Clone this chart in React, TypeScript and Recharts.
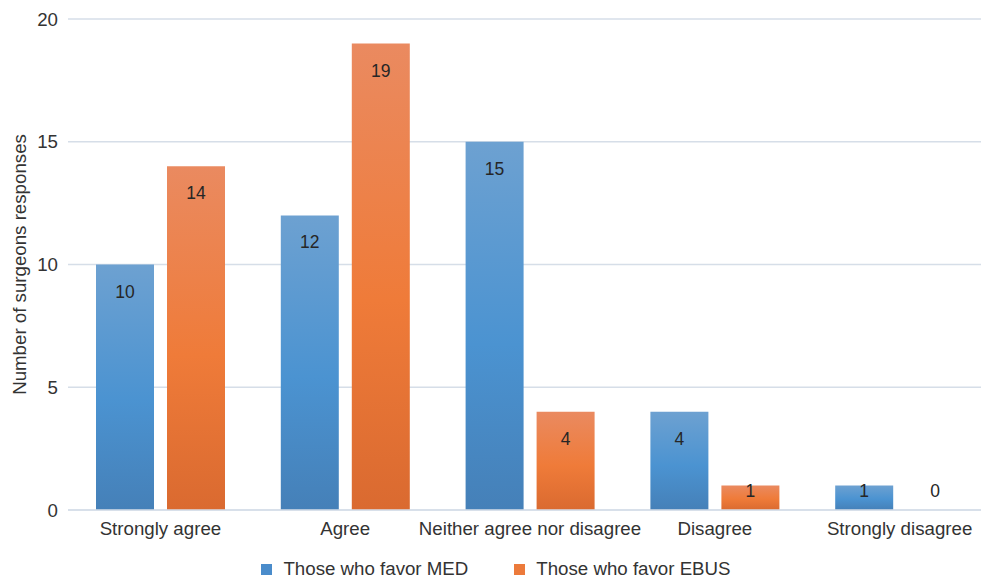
import React from "react";
import { BarChart, Bar, XAxis, YAxis, CartesianGrid, Legend, LabelList } from "recharts";

const categories = ["Strongly agree", "Agree", "Neither agree nor disagree", "Disagree", "Strongly disagree"];
const favorMed = [10, 12, 15, 4, 1];
const favorEbus = [14, 19, 4, 1, 0];
const yTicks = [0, 5, 10, 15, 20];

const seriesNames = { med: "Those who favor MED", ebus: "Those who favor EBUS" };

const data = categories.map((name, i) => ({ name, med: favorMed[i], ebus: favorEbus[i] }));

const FONT = '"Liberation Sans", Arial, Helvetica, sans-serif';
const FS = 18.7;
const TEXT = "#333333";
const GRID = "#d6dee8";

// value sits just inside the top of the bar; short bars push it up above the baseline
function ValueLabel(props: any) {
  const x = Number(props.x);
  const y = Number(props.y);
  const w = Number(props.width);
  const h = Number(props.height);
  const cy = Math.min(y + 27, y + h - 19);
  return (
    <text x={x + w / 2} y={cy} textAnchor="middle" dominantBaseline="central" fontSize={17.5} fontFamily={FONT} fill="#262626">
      {props.value}
    </text>
  );
}

function LegendRow() {
  const item = (color: string, label: string, gap: number) => (
    <div style={{ display: "flex", alignItems: "center", marginRight: gap }}>
      <span style={{ width: 11, height: 11, background: color, display: "inline-block", marginRight: 11 }} />
      <span>{label}</span>
    </div>
  );
  return (
    <div style={{ display: "flex", justifyContent: "center", alignItems: "center", height: 28, fontFamily: FONT, fontSize: FS, color: TEXT }}>
      {item("#4a8ccb", seriesNames.med, 46)}
      {item("#ec7a3b", seriesNames.ebus, 0)}
    </div>
  );
}

export default function App() {
  return (
    <div style={{ position: "absolute", left: 0, top: 0, width: 981, height: 583, overflow: "hidden", background: "#fff" }}>
      <BarChart
        width={992}
        height={583}
        data={data}
        margin={{ top: 19, right: 0, left: 0, bottom: 15 }}
        barCategoryGap={28}
        barGap={13}
      >
        <defs>
          <linearGradient id="gradMed" x1="0" y1="0" x2="0" y2="1">
            <stop offset="0%" stopColor="#6da1d1" />
            <stop offset="55%" stopColor="#4b93d1" />
            <stop offset="100%" stopColor="#4580b8" />
          </linearGradient>
          <linearGradient id="gradEbus" x1="0" y1="0" x2="0" y2="1">
            <stop offset="0%" stopColor="#ea8a60" />
            <stop offset="55%" stopColor="#ef7b39" />
            <stop offset="100%" stopColor="#da6a30" />
          </linearGradient>
        </defs>
        <CartesianGrid vertical={false} stroke={GRID} strokeWidth={1.5} />
        <XAxis
          dataKey="name"
          height={30}
          interval={0}
          tickLine={false}
          tickSize={0}
          tickMargin={12}
          axisLine={{ stroke: GRID, strokeWidth: 1.5 }}
          tick={{ fontSize: FS, fontFamily: FONT, fill: TEXT }}
        />
        <YAxis
          width={68}
          domain={[0, 20]}
          ticks={yTicks}
          axisLine={false}
          tickLine={false}
          tickSize={0}
          tickMargin={10}
          tick={{ fontSize: FS, fontFamily: FONT, fill: TEXT }}
          label={{
            value: "Number of surgeons responses",
            angle: -90,
            position: "insideLeft",
            dx: 14,
            dy: 0,
            style: { textAnchor: "middle", fontSize: FS, fontFamily: FONT, fill: TEXT },
          }}
        />
        <Legend verticalAlign="bottom" wrapperStyle={{ bottom: 0 }} content={() => <LegendRow />} />
        <Bar dataKey="med" name={seriesNames.med} fill="url(#gradMed)" isAnimationActive={false}>
          <LabelList dataKey="med" content={ValueLabel} />
        </Bar>
        <Bar dataKey="ebus" name={seriesNames.ebus} fill="url(#gradEbus)" minPointSize={0.01} isAnimationActive={false}>
          <LabelList dataKey="ebus" content={ValueLabel} />
        </Bar>
      </BarChart>
    </div>
  );
}
